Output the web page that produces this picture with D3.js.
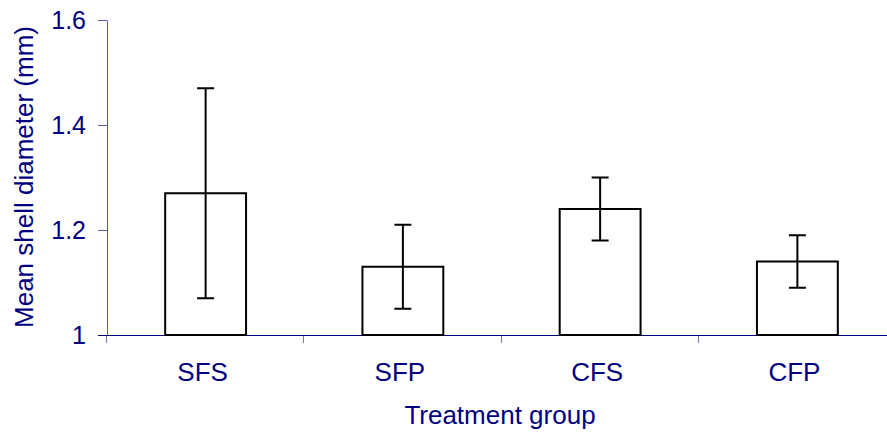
<!DOCTYPE html>
<html>
<head>
<meta charset="utf-8">
<script src="https://cdn.jsdelivr.net/npm/d3@7"></script>
<style>
  body { margin: 0; background: #fff; }
  svg text { font-family: "Liberation Sans", Arial, sans-serif; fill: #000080; }
</style>
</head>
<body>
<div id="chart"></div>
<script>
const groups = ["SFS", "SFP", "CFS", "CFP"];
const means = [1.27, 1.13, 1.24, 1.14];
const errors = [0.20, 0.08, 0.06, 0.05];
const yTicks = [1, 1.2, 1.4, 1.6];

const W = 887, H = 434;
const margin = { top: 20, right: 0, bottom: 99, left: 107 };
const plotRight = 896;

const svg = d3.select("#chart").append("svg")
    .attr("width", W)
    .attr("height", H);

const y = d3.scaleLinear()
    .domain([1, 1.6])
    .range([H - margin.bottom, margin.top]);

const x = d3.scaleBand()
    .domain(groups)
    .range([margin.left, plotRight])
    .paddingInner(0.59)
    .paddingOuter(0.295);

const step = x.step();
const y0 = y(1);

// y axis
const yAxis = svg.append("g")
    .attr("transform", `translate(${margin.left},0)`)
    .call(d3.axisLeft(y).tickValues(yTicks).tickFormat(d => d).tickSize(9).tickSizeOuter(0).tickPadding(12));
yAxis.select(".domain").attr("stroke", "#000080").attr("stroke-opacity", 0.65);
yAxis.selectAll(".tick line").attr("stroke", "#000080").attr("stroke-opacity", 0.65);
yAxis.selectAll("text").style("font-size", "25px");

// x axis line + category boundary ticks
svg.append("line")
    .attr("x1", margin.left - 9).attr("x2", W)
    .attr("y1", y0 + 0.5).attr("y2", y0 + 0.5)
    .attr("stroke", "#000080");

svg.selectAll(".xtick")
    .data(d3.range(groups.length + 1))
    .join("line")
    .attr("class", "xtick")
    .attr("x1", i => Math.round(margin.left + i * step) - 0.5)
    .attr("x2", i => Math.round(margin.left + i * step) - 0.5)
    .attr("y1", y0)
    .attr("y2", y0 + 8)
    .attr("stroke", "#000080")
    .attr("stroke-opacity", 0.55);

const xAxis = svg.append("g")
    .attr("transform", `translate(0,${y0})`)
    .call(d3.axisBottom(x).tickSize(0).tickPadding(28));
xAxis.select(".domain").remove();
xAxis.selectAll("text").style("font-size", "26px").attr("dx", "-3");

// bars
svg.selectAll(".bar")
    .data(groups)
    .join("rect")
    .attr("class", "bar")
    .attr("x", d => x(d))
    .attr("y", (d, i) => y(means[i]))
    .attr("width", x.bandwidth())
    .attr("height", (d, i) => y0 - y(means[i]))
    .attr("fill", "#fff")
    .attr("stroke", "#000")
    .attr("stroke-width", 2);

// error bars
const capW = 17;
const eb = svg.selectAll(".err")
    .data(groups)
    .join("g")
    .attr("class", "err")
    .attr("stroke", "#000")
    .attr("stroke-width", 2);

eb.append("line")
    .attr("x1", d => x(d) + x.bandwidth() / 2)
    .attr("x2", d => x(d) + x.bandwidth() / 2)
    .attr("y1", (d, i) => y(means[i] + errors[i]))
    .attr("y2", (d, i) => y(means[i] - errors[i]));

eb.append("line")
    .attr("x1", d => x(d) + x.bandwidth() / 2 - capW / 2)
    .attr("x2", d => x(d) + x.bandwidth() / 2 + capW / 2)
    .attr("y1", (d, i) => y(means[i] + errors[i]))
    .attr("y2", (d, i) => y(means[i] + errors[i]));

eb.append("line")
    .attr("x1", d => x(d) + x.bandwidth() / 2 - capW / 2)
    .attr("x2", d => x(d) + x.bandwidth() / 2 + capW / 2)
    .attr("y1", (d, i) => y(means[i] - errors[i]))
    .attr("y2", (d, i) => y(means[i] - errors[i]));

// axis titles
svg.append("text")
    .attr("x", 500)
    .attr("y", 424)
    .attr("text-anchor", "middle")
    .style("font-size", "26px")
    .text("Treatment group");

svg.append("text")
    .attr("transform", "translate(33,177) rotate(-90)")
    .attr("text-anchor", "middle")
    .style("font-size", "26px")
    .text("Mean shell diameter (mm)");
</script>
</body>
</html>
